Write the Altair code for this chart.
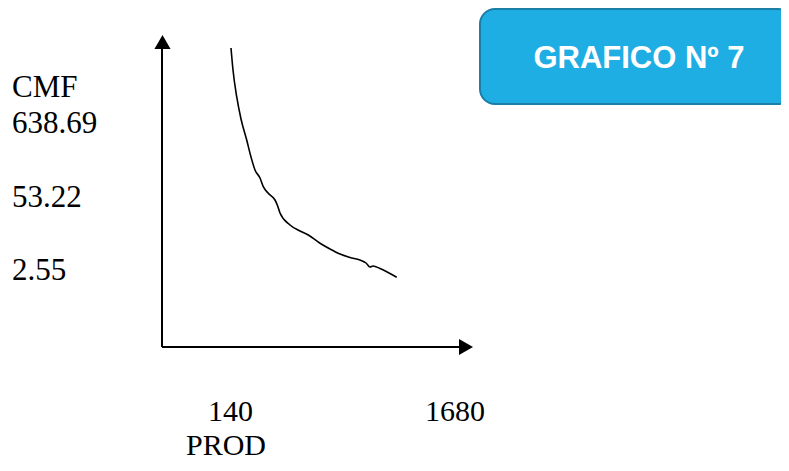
import altair as alt
import pandas as pd

# ---- data (schematic units: the drawing is read in the page's frame) ----
CURVE_PROD = [231, 233, 236.7, 241, 246.7, 251, 255, 260, 263.3, 268.3, 275, 277.3, 280,
              290, 300, 308.3, 320, 330, 340, 350, 360, 366, 370, 373, 380, 386.7, 396.7]
CURVE_CMF = [48, 70, 96.7, 119, 140, 157, 170, 178, 186.7, 193.3, 200, 205, 213,
             225, 231, 235, 243.3, 249, 254, 257.5, 260, 263, 267, 266, 268.5, 271.7, 277.3]

Y_LABELS = ["CMF", "638.69", "53.22", "2.55"]
X_LABELS = ["140", "1680", "PROD"]
TITLE = "GRAFICO Nº 7"

# ---- layout ----
W, H = 773, 455
xs = alt.Scale(domain=[8, 781], nice=False, zero=False)
ys = alt.Scale(domain=[8, 463], nice=False, zero=False, reverse=True)
X = lambda f: alt.X(f, type="quantitative", scale=xs, axis=None)
Y = lambda f: alt.Y(f, type="quantitative", scale=ys, axis=None)

curve = pd.DataFrame({"x": CURVE_PROD, "y": CURVE_CMF, "o": range(len(CURVE_PROD))})
curve_layer = alt.Chart(curve).mark_line(color="black", strokeWidth=1.6, interpolate="monotone").encode(
    x=X("x"), y=Y("y"), order="o:Q")

axes = pd.DataFrame({"x": [162, 162], "y": [48, 347], "x2": [162, 460], "y2": [347, 347]})
axes_layer = alt.Chart(axes).mark_rule(color="black", strokeWidth=2).encode(
    x=X("x"), y=Y("y"), x2="x2:Q", y2="y2:Q")

arrows = pd.DataFrame({"x": [162.5, 466], "y": [42, 347], "s": ["triangle-up", "triangle-right"]})
arrow_layer = alt.Chart(arrows).mark_point(filled=True, color="black", opacity=1, size=260).encode(
    x=X("x"), y=Y("y"), shape=alt.Shape("s:N", scale=None))

box = pd.DataFrame({"x": [480], "x2": [793], "y": [9], "y2": [104]})
box_layer = alt.Chart(box).mark_rect(fill="#1FAEE4", stroke="#1B7EA6", strokeWidth=2,
                                     cornerRadius=15).encode(x=X("x"), x2="x2:Q", y=Y("y"), y2="y2:Q")

title_df = pd.DataFrame({"x": [639], "y": [68], "t": [TITLE]})
title_layer = alt.Chart(title_df).mark_text(font="Liberation Sans", fontWeight="bold", fontSize=31,
                                            color="white", align="center", baseline="alphabetic").encode(
    x=X("x"), y=Y("y"), text="t:N")

labels = pd.DataFrame({
    "t": Y_LABELS + X_LABELS,
    "x": [12, 12, 12, 12, 208, 425, 186],
    "y": [97, 133, 207, 280, 421, 421, 455],
    "s": [31, 31, 31, 31, 30, 30, 30],
})
label_layer = alt.Chart(labels).mark_text(font="Liberation Serif", color="black",
                                          align="left", baseline="alphabetic").encode(
    x=X("x"), y=Y("y"), text="t:N", size=alt.Size("s:Q", scale=None, legend=None))

chart = alt.layer(box_layer, title_layer, axes_layer, arrow_layer, curve_layer, label_layer).properties(
    width=W, height=H, autosize=alt.AutoSizeParams(type="none"), padding=0, background="white"
).configure_view(stroke=None)

chart.save("out.html", embed_options={"renderer": "svg", "actions": False})
